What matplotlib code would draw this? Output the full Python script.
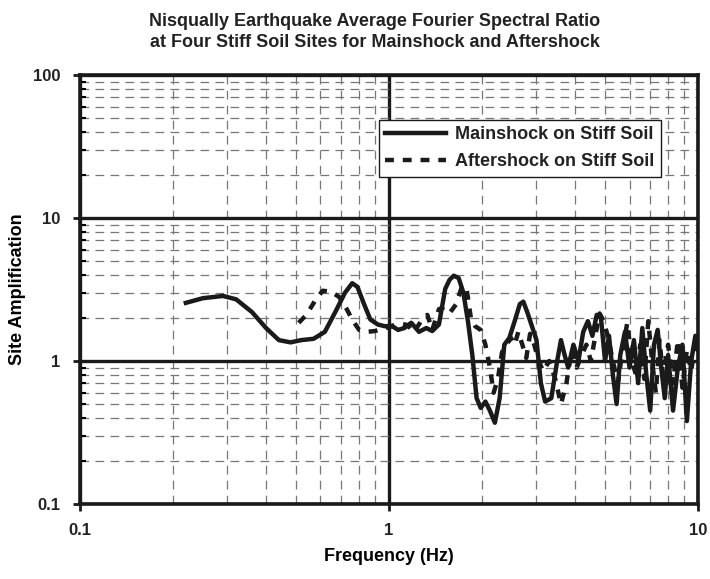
import matplotlib
matplotlib.use('Agg')
import matplotlib.pyplot as plt
from matplotlib.ticker import LogLocator, NullFormatter

plt.rcParams['font.family'] = ['Liberation Sans', 'DejaVu Sans']
plt.rcParams['font.weight'] = 'bold'
plt.rcParams['text.color'] = '#222222'

# Mainshock on stiff soil
main_freq = [0.22, 0.25, 0.29, 0.32, 0.36, 0.40, 0.44, 0.48, 0.52, 0.57, 0.62,
             0.67, 0.72, 0.76, 0.79, 0.83, 0.87, 0.92, 0.97, 1.02, 1.07, 1.12,
             1.18, 1.25, 1.32, 1.38, 1.45, 1.52, 1.57, 1.62, 1.68, 1.74, 1.80,
             1.86, 1.92, 1.98, 2.05, 2.12, 2.20, 2.28, 2.36, 2.45, 2.55, 2.65,
             2.72, 2.80, 2.90, 3.00, 3.10, 3.20, 3.35, 3.5, 3.6, 3.7, 3.8, 3.95,
             4.1, 4.25, 4.4, 4.55, 4.7, 4.85, 5.0, 5.15, 5.3, 5.45, 5.6, 5.8,
             6.0, 6.2, 6.4, 6.6, 6.8, 7.0, 7.2, 7.4, 7.6, 7.8, 8.0, 8.3, 8.6,
             8.9, 9.2, 9.5, 9.8, 10.0]
main_amp = [2.55, 2.75, 2.85, 2.7, 2.2, 1.7, 1.4, 1.35, 1.40, 1.43, 1.6,
            2.2, 3.0, 3.5, 3.3, 2.5, 1.95, 1.8, 1.75, 1.76, 1.65, 1.7,
            1.85, 1.6, 1.7, 1.62, 1.8, 3.2, 3.7, 3.95, 3.8, 3.0, 1.9,
            1.1, 0.55, 0.47, 0.52, 0.45, 0.37, 0.55, 1.3, 1.45, 1.9, 2.5,
            2.6, 2.2, 1.75, 1.4, 0.7, 0.52, 0.55, 1.0, 1.4, 1.1, 0.9, 1.3,
            1.0, 1.6, 1.9, 1.5, 2.1, 2.0, 1.0, 1.5, 0.8, 0.5, 1.1, 1.6,
            0.9, 1.4, 0.7, 1.7, 0.8, 0.45, 1.3, 1.65, 0.9, 0.55, 1.1, 0.45, 0.9,
            1.3, 0.38, 1.0, 1.5, 1.2]

# Aftershock on stiff soil
after_freq = [0.51, 0.54, 0.58, 0.61, 0.65, 0.69, 0.73, 0.76, 0.80, 0.85, 0.90,
              0.95, 1.00, 1.05, 1.10, 1.15, 1.20, 1.27, 1.33, 1.38, 1.45, 1.52,
              1.58, 1.65, 1.72, 1.78, 1.84, 1.90, 1.98, 2.05, 2.12, 2.18, 2.25,
              2.32, 2.40, 2.48, 2.55, 2.62, 2.7, 2.78, 2.86, 2.95, 3.05, 3.15,
              3.3, 3.45, 3.6, 3.75, 3.9, 4.05, 4.2, 4.35, 4.5, 4.65, 4.8, 4.95,
              5.1, 5.3, 5.5, 5.7, 5.9, 6.1, 6.3, 6.5, 6.7, 6.9, 7.1, 7.3, 7.5,
              7.7, 8.0, 8.3, 8.6, 8.9, 9.2, 9.5, 9.8, 10.0]
after_amp = [1.85, 2.1, 2.7, 3.1, 3.05, 2.8, 2.3, 1.95, 1.65, 1.6, 1.62,
             1.68, 1.72, 1.8, 1.82, 1.78, 1.58, 1.9, 2.1, 1.65, 2.3, 2.4,
             2.2, 2.5, 3.3, 3.25, 2.0, 1.75, 1.65, 1.3, 0.9, 0.6, 0.75,
             1.15, 1.3, 1.45, 1.3, 1.6, 1.3, 1.05, 1.55, 1.3, 1.0, 0.85,
             1.0, 0.75, 0.5, 0.7, 1.2, 0.9, 1.1, 1.3, 1.0, 1.5, 2.15, 1.9,
             1.5, 1.0, 0.7, 1.2, 1.85, 1.0, 0.8, 1.3, 0.75, 1.9, 1.0, 0.6, 1.4,
             0.8, 1.3, 0.7, 1.4, 0.65, 1.2, 0.85, 1.35, 1.3]

fig = plt.figure(figsize=(7.1, 5.79), dpi=100)
ax = fig.add_axes([0.1127, 0.1295, 0.8705, 0.741])

ax.plot(main_freq, main_amp, color='#1a1a1a', lw=3.2, label='Mainshock on Stiff Soil')
ax.plot(after_freq, after_amp, color='#1a1a1a', lw=3.2, dashes=(2.0, 2.0),
        label='Aftershock on Stiff Soil')

ax.set_xscale('log')
ax.set_yscale('log')
ax.set_xlim(0.1, 10)
ax.set_ylim(0.1, 100)
ax.set_xticks([0.1, 1, 10])
ax.set_xticklabels(['0.1', '1', '10'])
ax.set_yticks([0.1, 1, 10, 100])
ax.set_yticklabels(['0.1', '1', '10', '100'])
ax.xaxis.set_minor_locator(LogLocator(base=10, subs=range(2, 10)))
ax.yaxis.set_minor_locator(LogLocator(base=10, subs=range(2, 10)))
ax.xaxis.set_minor_formatter(NullFormatter())
ax.yaxis.set_minor_formatter(NullFormatter())

ax.grid(which='major', color='#1a1a1a', lw=2.4, ls='-')
ax.grid(which='minor', color='#777777', lw=0.9, ls=(0, (7, 5)))
ax.set_axisbelow(True)
for s in ax.spines.values():
    s.set_linewidth(2.6)
    s.set_color('#1a1a1a')

ax.tick_params(axis='both', which='major', labelsize=12, length=5, width=2,
               pad=9, colors='#1a1a1a', labelcolor='#222222')
ax.tick_params(axis='x', which='minor', length=0)
ax.tick_params(axis='y', which='minor', direction='in', length=4, width=1.5)

ax.set_xlabel('Frequency (Hz)', fontsize=13, fontweight='bold')
ax.set_ylabel('Site Amplification', fontsize=13, fontweight='bold')
ax.xaxis.set_label_coords(0.5, -0.102)
ax.yaxis.set_label_coords(-0.087, 0.5)
fig.suptitle('Nisqually Earthquake Average Fourier Spectral Ratio\n'
             'at Four Stiff Soil Sites for Mainshock and Aftershock',
             fontsize=13, fontweight='bold', y=0.978, x=0.528, linespacing=1.3)

leg = ax.legend(loc='upper right', bbox_to_anchor=(0.94, 0.895), fontsize=13,
                handlelength=3.4, handletextpad=0.5, fancybox=False, framealpha=1,
                edgecolor='#1a1a1a', borderpad=0.35, labelspacing=0.55,
                borderaxespad=0)
leg.get_frame().set_linewidth(1.0)
for t in leg.get_texts():
    t.set_fontweight('bold')

plt.savefig('out.png', dpi=100)
